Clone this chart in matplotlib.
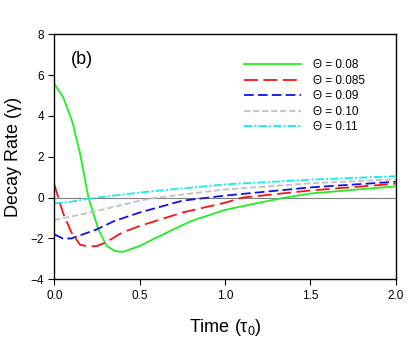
import matplotlib
matplotlib.use("Agg")
import matplotlib.pyplot as plt
import numpy as np

plt.rcParams['font.family'] = ['Liberation Sans', 'DejaVu Sans']
plt.rcParams['mathtext.fontset'] = 'custom'
plt.rcParams['mathtext.rm'] = 'Liberation Sans'
plt.rcParams['mathtext.it'] = 'Liberation Sans'
plt.rcParams['lines.scale_dashes'] = False

t_green = [0.0, 0.053, 0.107, 0.15, 0.2, 0.258, 0.307, 0.355, 0.40, 0.5, 0.6, 0.8, 1.0, 1.2, 1.35, 1.5, 1.75, 2.0]
y_green = [5.58, 4.9, 3.67, 2.2, 0.0, -1.55, -2.37, -2.61, -2.66, -2.37, -1.95, -1.15, -0.6, -0.25, 0.0, 0.2, 0.38, 0.55]

t_red = [0.0, 0.05, 0.1, 0.15, 0.2, 0.25, 0.3, 0.4, 0.5, 0.75, 1.0, 1.1, 1.5, 2.0]
y_red = [0.65, -0.73, -1.7, -2.3, -2.4, -2.37, -2.2, -1.7, -1.39, -0.73, -0.25, 0.0, 0.35, 0.68]

t_blue = [0.0, 0.05, 0.1, 0.15, 0.25, 0.35, 0.5, 0.75, 0.9, 1.0, 1.5, 2.0]
y_blue = [-1.8, -2.0, -2.0, -1.85, -1.55, -1.15, -0.73, -0.15, 0.0, 0.1, 0.5, 0.78]

t_gray = [0.0, 0.25, 0.5, 0.6, 1.0, 1.5, 2.0]
y_gray = [-1.1, -0.65, -0.15, 0.0, 0.4, 0.7, 0.9]

t_cyan = [0.0, 0.1, 0.2, 0.3, 0.5, 1.0, 1.5, 2.0]
y_cyan = [-0.28, -0.2, -0.05, 0.05, 0.25, 0.65, 0.88, 1.05]

labels = ['Θ = 0.08', 'Θ = 0.085', 'Θ = 0.09', 'Θ = 0.10', 'Θ = 0.11']

fig = plt.figure(figsize=(4.14, 3.45), dpi=100)
ax = fig.add_axes([54.3/414, 1 - 279.3/345, (395.7-54.3)/414, (279.3-34.3)/345])

ax.axhline(0, color='#808080', lw=0.8, zorder=1)
lw = 1.3
ax.plot(t_green, y_green, color='#22ee22', lw=lw, label=labels[0])
ax.plot(t_red, y_red, color='#ff1111', lw=lw, dashes=(10, 4), label=labels[1])
ax.plot(t_blue, y_blue, color='#1010ee', lw=lw, dashes=(7, 3), label=labels[2])
ax.plot(t_gray, y_gray, color='#c0c0c0', lw=lw, dashes=(4.5, 2), label=labels[3])
ax.plot(t_cyan, y_cyan, color='#11eeee', lw=lw, dashes=(6, 1.5, 1.5, 1.5), label=labels[4])

ax.set_xlim(0, 2)
ax.set_ylim(-4, 8)
ax.set_xticks([0, 0.5, 1.0, 1.5, 2.0])
ax.set_xticklabels(['0.0', '0.5', '1.0', '1.5', '2.0'])
ax.set_yticks([-4, -2, 0, 2, 4, 6, 8])
ax.tick_params(direction='out', length=4, width=0.8, labelsize=8.5, top=False, right=False)
for s in ax.spines.values():
    s.set_linewidth(1.0)

ax.set_xlabel(r'Time ($\tau_0$)', fontsize=13, labelpad=11)
ax.set_ylabel('Decay Rate (γ)', fontsize=13, labelpad=6)
ax.text(0.095, 6.75, '(b)', fontsize=13, va='center', ha='left')

leg = ax.legend(loc='upper left', bbox_to_anchor=(0.525, 0.942), frameon=False, fontsize=8.5,
                handlelength=4.8, handletextpad=1.0, labelspacing=0.3)

fig.savefig('out.png', dpi=100)
